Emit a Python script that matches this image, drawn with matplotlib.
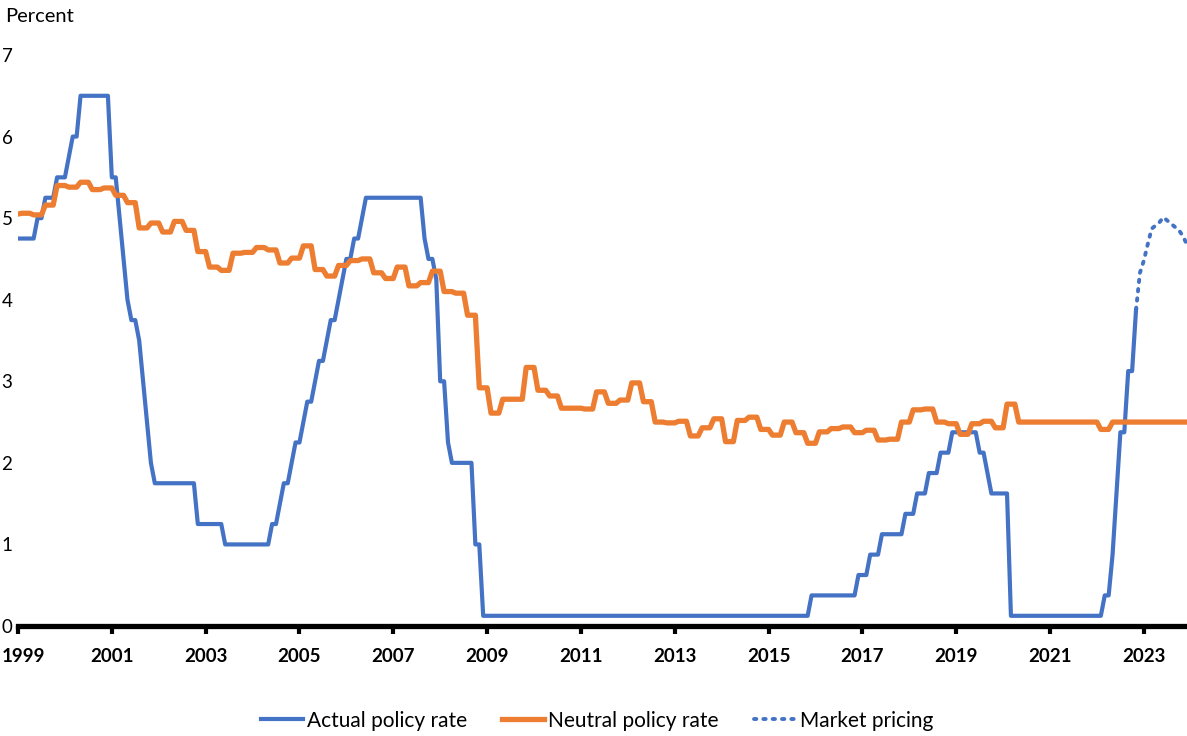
import numpy as np
import matplotlib.pyplot as plt
import matplotlib.transforms as mtransforms

# ----------------------------------------------------------------------------
# Data
# ----------------------------------------------------------------------------

# Actual policy rate, month-end values, Jan 1999 - Nov 2022
actual_1999 = [4.75, 4.75, 4.75, 4.75, 4.75, 5.00, 5.00, 5.25, 5.25, 5.25, 5.50, 5.50]
actual_2000 = [5.50, 5.75, 6.00, 6.00, 6.50, 6.50, 6.50, 6.50, 6.50, 6.50, 6.50, 6.50]
actual_2001 = [5.50, 5.50, 5.00, 4.50, 4.00, 3.75, 3.75, 3.50, 3.00, 2.50, 2.00, 1.75]
actual_2002 = [1.75, 1.75, 1.75, 1.75, 1.75, 1.75, 1.75, 1.75, 1.75, 1.75, 1.25, 1.25]
actual_2003 = [1.25, 1.25, 1.25, 1.25, 1.25, 1.00, 1.00, 1.00, 1.00, 1.00, 1.00, 1.00]
actual_2004 = [1.00, 1.00, 1.00, 1.00, 1.00, 1.25, 1.25, 1.50, 1.75, 1.75, 2.00, 2.25]
actual_2005 = [2.25, 2.50, 2.75, 2.75, 3.00, 3.25, 3.25, 3.50, 3.75, 3.75, 4.00, 4.25]
actual_2006 = [4.50, 4.50, 4.75, 4.75, 5.00, 5.25, 5.25, 5.25, 5.25, 5.25, 5.25, 5.25]
actual_2007 = [5.25, 5.25, 5.25, 5.25, 5.25, 5.25, 5.25, 5.25, 4.75, 4.50, 4.50, 4.25]
actual_2008 = [3.00, 3.00, 2.25, 2.00, 2.00, 2.00, 2.00, 2.00, 2.00, 1.00, 1.00, 0.125]
actual_2009 = [0.125] * 12
actual_2010 = [0.125] * 12
actual_2011 = [0.125] * 12
actual_2012 = [0.125] * 12
actual_2013 = [0.125] * 12
actual_2014 = [0.125] * 12
actual_2015 = [0.125] * 11 + [0.375]
actual_2016 = [0.375] * 11 + [0.625]
actual_2017 = [0.625, 0.625, 0.875, 0.875, 0.875, 1.125, 1.125, 1.125, 1.125, 1.125, 1.125, 1.375]
actual_2018 = [1.375, 1.375, 1.625, 1.625, 1.625, 1.875, 1.875, 1.875, 2.125, 2.125, 2.125, 2.375]
actual_2019 = [2.375, 2.375, 2.375, 2.375, 2.375, 2.375, 2.125, 2.125, 1.875, 1.625, 1.625, 1.625]
actual_2020 = [1.625, 1.625] + [0.125] * 10
actual_2021 = [0.125] * 12
actual_2022 = [0.125, 0.125, 0.375, 0.375, 0.875, 1.625, 2.375, 2.375, 3.125, 3.125, 3.875]

actual_rate = (actual_1999 + actual_2000 + actual_2001 + actual_2002 + actual_2003
               + actual_2004 + actual_2005 + actual_2006 + actual_2007 + actual_2008
               + actual_2009 + actual_2010 + actual_2011 + actual_2012 + actual_2013
               + actual_2014 + actual_2015 + actual_2016 + actual_2017 + actual_2018
               + actual_2019 + actual_2020 + actual_2021 + actual_2022)
actual_start = 1999.0

# Market pricing, monthly, Nov 2022 - Dec 2023
market_pricing = [3.875, 4.33, 4.48, 4.68, 4.87, 4.91, 4.95, 5.01, 4.97, 4.93, 4.89, 4.85, 4.78, 4.68]
market_start = 2022 + 10 / 12

# Neutral policy rate, quarterly (quarters run Nov-Jan, Feb-Apr, May-Jul, Aug-Oct)
neutral_rate = [
    5.05, 5.06, 5.04, 5.16, 5.40, 5.38, 5.44, 5.35, 5.37, 5.28, 5.19,
    4.88, 4.94, 4.83, 4.96, 4.85, 4.59, 4.40, 4.36, 4.57, 4.58,
    4.64, 4.61, 4.45, 4.51, 4.66, 4.37, 4.29, 4.42, 4.48, 4.50,
    4.33, 4.26, 4.40, 4.17, 4.21, 4.35, 4.10, 4.08, 3.81, 2.92,
    2.61, 2.78, 2.78, 3.17, 2.89, 2.82, 2.67, 2.67, 2.66, 2.87,
    2.73, 2.77, 2.98, 2.75, 2.50, 2.49, 2.51, 2.33, 2.43, 2.54,
    2.26, 2.52, 2.56, 2.41, 2.34, 2.50, 2.37, 2.24, 2.38, 2.42,
    2.44, 2.37, 2.40, 2.28, 2.29, 2.50, 2.65, 2.66, 2.50, 2.48,
    2.35, 2.48, 2.51, 2.43, 2.72, 2.50, 2.50, 2.50, 2.50, 2.50,
    2.50, 2.50, 2.41, 2.50, 2.50, 2.50, 2.50, 2.50, 2.50, 2.50,
]
neutral_start = 1998 + 10 / 12

tick_years = list(range(1999, 2024, 2))
y_ticks = [0, 1, 2, 3, 4, 5, 6, 7]

# ----------------------------------------------------------------------------
# Plot
# ----------------------------------------------------------------------------

BLUE = '#4472C4'
ORANGE = '#ED7D31'
plt.rcParams['font.family'] = ['Lato', 'DejaVu Sans']

fig = plt.figure(figsize=(11.87, 7.36), dpi=100)
ax = fig.add_axes([18 / 1187, 110 / 736, 1 - 18 / 1187, (626 - 55) / 736])

# monthly x positions
x_actual = actual_start + np.arange(len(actual_rate)) / 12
x_market = market_start + np.arange(len(market_pricing)) / 12
neutral_monthly = np.repeat(neutral_rate, 3)   # quarterly value held each month
x_neutral = neutral_start + np.arange(len(neutral_monthly)) / 12

ax.plot(x_actual, actual_rate, color=BLUE, linewidth=3.0, label='Actual policy rate',
        solid_joinstyle='round')
ax.plot(x_neutral, neutral_monthly, color=ORANGE, linewidth=3.8, label='Neutral policy rate',
        solid_joinstyle='round')
ax.plot(x_market, market_pricing, color=BLUE, linewidth=2.8, linestyle=(0, (0.6, 1.8)),
        dash_capstyle='round', label='Market pricing')

ax.set_xlim(1999, 2023.92)
ax.set_ylim(0, 7)

for side in ['top', 'right', 'left']:
    ax.spines[side].set_visible(False)
ax.spines['bottom'].set_linewidth(3.8)
ax.spines['bottom'].set_color('black')

ax.set_xticks(tick_years)
ax.set_xticklabels([str(y) for y in tick_years], fontsize=13.5, fontweight='bold')
ax.tick_params(axis='x', direction='out', length=6, width=3, pad=10, colors='black')
ax.set_yticks(y_ticks)
ax.set_yticklabels([str(v) for v in y_ticks], fontsize=13.5)
ax.tick_params(axis='y', length=0, pad=4)

# nudge the first year label so it stays inside the figure
first = ax.get_xticklabels()[0]
first.set_transform(first.get_transform()
                    + mtransforms.ScaledTranslation(4 / 72, 0, fig.dpi_scale_trans))

fig.text(5 / 1187, 1 - 16 / 736, 'Percent', fontsize=14.5, va='center', ha='left')

ax.legend(loc='center', bbox_to_anchor=(0.503, 0.021), bbox_transform=fig.transFigure,
          ncol=3, frameon=False, fontsize=15, handlelength=2.0, handletextpad=0.2,
          columnspacing=1.7)

fig.savefig('out.png', dpi=100)
